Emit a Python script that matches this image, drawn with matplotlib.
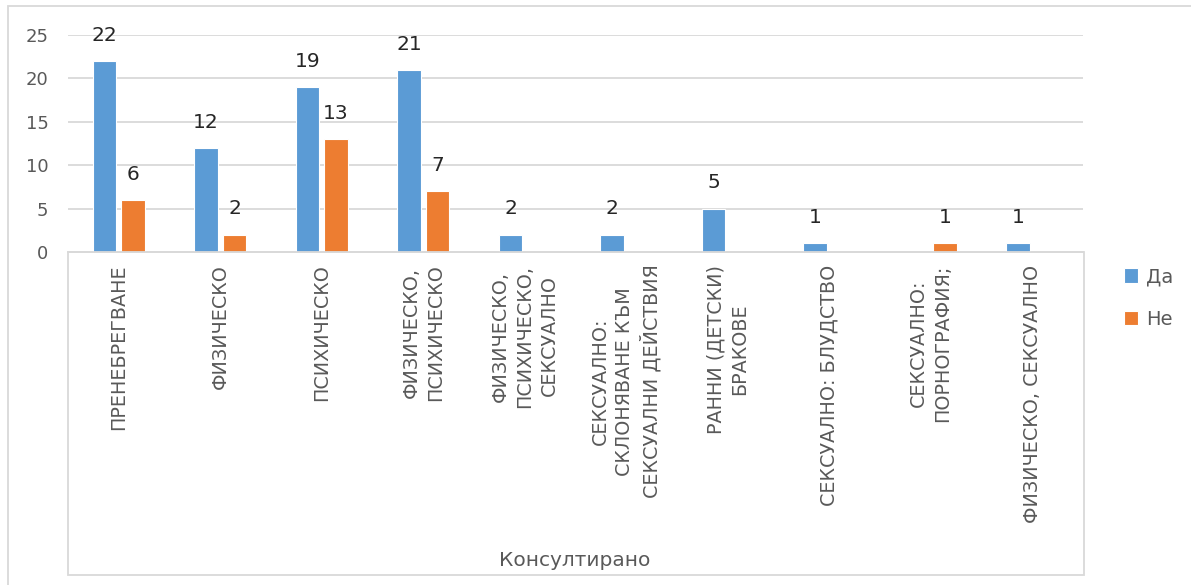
import matplotlib
matplotlib.use("Agg")
import matplotlib.pyplot as plt
import numpy as np
from matplotlib.patches import Rectangle

categories = [
    "ПРЕНЕБРЕГВАНЕ",
    "ФИЗИЧЕСКО",
    "ПСИХИЧЕСКО",
    "ФИЗИЧЕСКО,\nПСИХИЧЕСКО",
    "ФИЗИЧЕСКО,\nПСИХИЧЕСКО,\nСЕКСУАЛНО",
    "СЕКСУАЛНО:\nСКЛОНЯВАНЕ КЪМ\nСЕКСУАЛНИ ДЕЙСТВИЯ",
    "РАННИ (ДЕТСКИ)\nБРАКОВЕ",
    "СЕКСУАЛНО: БЛУДСТВО",
    "СЕКСУАЛНО:\nПОРНОГРАФИЯ;",
    "ФИЗИЧЕСКО, СЕКСУАЛНО",
]
da = [22, 12, 19, 21, 2, 2, 5, 1, None, 1]
ne = [6, 2, 13, 7, None, None, None, None, 1, None]
series_names = ["Да", "Не"]
axis_title = "Консултирано"
yticks = [0, 5, 10, 15, 20, 25]

BLUE = "#5B9BD5"
ORANGE = "#ED7D31"
GRAY_TXT = "#595959"
GRID = "#D9D9D9"

plt.rcParams['font.family'] = ['DejaVu Sans']

W, H = 1191, 585
fig = plt.figure(figsize=(W / 100, H / 100), dpi=100)

def fx(px):
    return px / W

def fy(py):
    return 1 - py / H

ax_left, ax_right, ax_top, ax_bot = 68, 1083, 35, 252
ax = fig.add_axes([fx(ax_left), fy(ax_bot), fx(ax_right - ax_left), fy(ax_top) - fy(ax_bot)])

x = np.arange(len(categories))
bw = 0.23
off = 0.14
da_vals = [v if v is not None else 0 for v in da]
ne_vals = [v if v is not None else 0 for v in ne]
b1 = ax.bar(x - off, da_vals, bw, color=BLUE, edgecolor="white", linewidth=0.8, zorder=3, label=series_names[0])
b2 = ax.bar(x + off, ne_vals, bw, color=ORANGE, edgecolor="white", linewidth=0.8, zorder=3, label=series_names[1])

for xi, v in zip(x, da):
    if v is not None:
        ax.annotate(str(v), (xi - off, v), xytext=(0, 18.5), textcoords="offset points",
                    ha="center", va="center", fontsize=14.5, color="#262626")
for xi, v in zip(x, ne):
    if v is not None:
        ax.annotate(str(v), (xi + off, v), xytext=(0, 18.5), textcoords="offset points",
                    ha="center", va="center", fontsize=14.5, color="#262626")

ax.set_xlim(-0.5, len(categories) - 0.5)
ax.set_ylim(0, 25)
ax.set_yticks(yticks)
ax.set_yticklabels([str(t) for t in yticks], fontsize=13, color=GRAY_TXT)
ax.tick_params(axis="y", length=0, pad=14)
ax.grid(axis="y", color=GRID, linewidth=1.3, zorder=0)
ax.set_axisbelow(True)
for s in ["left", "right", "top"]:
    ax.spines[s].set_visible(False)
ax.spines["bottom"].set_color(GRID)
ax.spines["bottom"].set_linewidth(1.3)

ax.set_xticks(x)
ax.set_xticklabels(categories, rotation=90, ha="center", va="top", multialignment="center",
                   fontsize=13.8, color=GRAY_TXT, linespacing=1.35)
ax.tick_params(axis="x", length=0, pad=9)

# category axis box
fig.add_artist(Rectangle((fx(68), fy(575)), fx(1084 - 68), fy(252) - fy(575), transform=fig.transFigure,
                         fill=False, edgecolor=GRID, linewidth=1.3))
# outer chart border
fig.add_artist(Rectangle((fx(8), fy(600)), fx(1200), fy(6) - fy(600), transform=fig.transFigure,
                         fill=False, edgecolor=GRID, linewidth=1.3))

fig.text(fx(575), fy(560), axis_title, ha="center", va="center", fontsize=14.5, color=GRAY_TXT)

leg = fig.legend(handles=[b1, b2], labels=series_names, loc="center left",
                 bbox_to_anchor=(fx(1106), fy(298)), frameon=False, fontsize=14,
                 handlelength=0.75, handleheight=0.75, handletextpad=0.4, labelspacing=1.2,
                 labelcolor=GRAY_TXT)

fig.savefig("out.png", dpi=100)
